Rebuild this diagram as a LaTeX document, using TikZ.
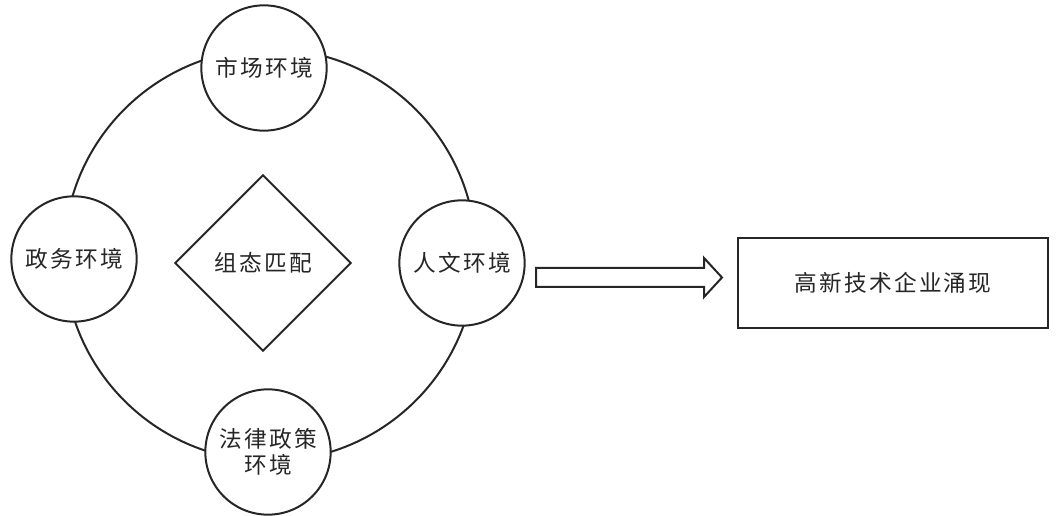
\documentclass[tikz,border=0pt]{standalone}
\usepackage{fontspec}
\newfontfamily\cjk{Noto Sans CJK SC}[LetterSpace=10]
\begin{document}
\begin{tikzpicture}[x=0.75pt,y=-0.75pt,
  every node/.style={font=\cjk\fontsize{17pt}{19pt}\selectfont, text=black!85},
  ln/.style={line width=1.5pt, draw=black!85},
  envc/.style={ln, circle, fill=white, inner sep=0pt, minimum size=94pt, align=center},
  ringc/.style={ln, circle, inner sep=0pt, minimum size=309pt},
  diam/.style={ln, rectangle, rotate=45, inner sep=0pt, minimum size=93pt},
  box/.style={ln, rectangle, inner sep=0pt, minimum width=232pt, minimum height=67.5pt}
]
\useasboundingbox (0,0) rectangle (1056,516);
\node[ringc] (ring) at (270,255) {};
\node[envc] (top) at (264,68) {市场环境};
\node[envc] (left) at (74,259) {政务环境};
\node[envc] (right) at (462,263) {人文环境};
\node[envc] (bottom) at (268,452) {法律政策\\环境};
\node[diam] (dm) at (263,263) {};
\node (dmt) at (dm.center) {组态匹配};
\node[box] (res) at (893,283) {高新技术企业涌现};
\draw[ln, line join=miter] (536,268) -- (704,268) -- (704,258) -- (722,277.5) -- (704,297) -- (704,287) -- (536,287) -- cycle;
\end{tikzpicture}
\end{document}
